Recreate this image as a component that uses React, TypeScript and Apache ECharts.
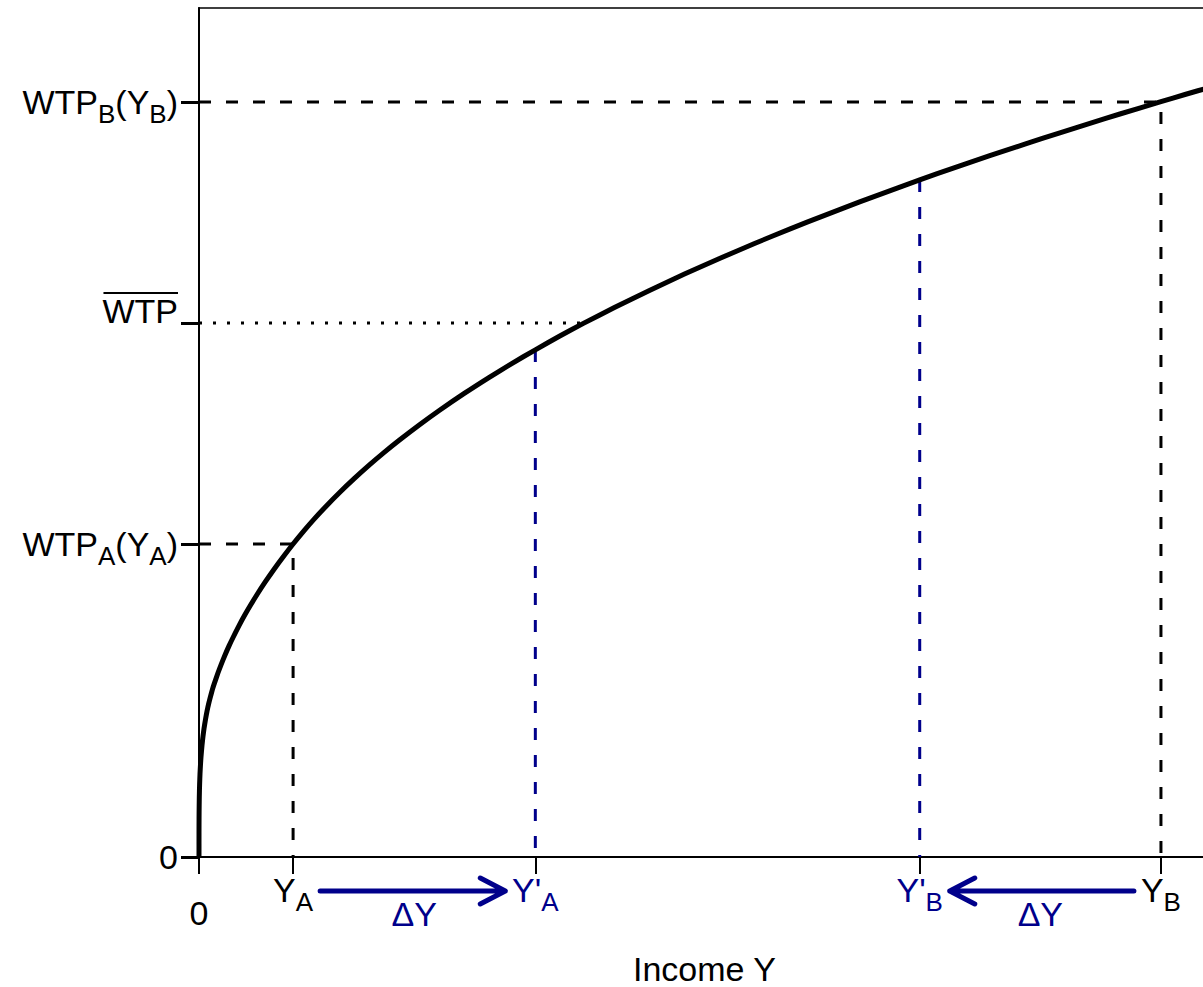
import React, { useEffect, useRef } from 'react';
import * as echarts from 'echarts';

// Curve: income (x) vs willingness to pay (y)
const curveIncome = [0, 0.01, 0.03, 0.1, 0.3, 0.6, 1, 1.5, 2, 3, 4, 5, 6.5, 8, 9.5, 11, 13.5, 15, 19, 22, 26, 30, 34, 40, 46, 52, 58, 66, 75, 84, 94, 105, 115, 127, 140, 155, 170, 185, 200, 220, 240, 265, 290, 312, 336, 360, 384, 415, 450, 485, 520, 555, 590, 625, 660, 690, 720, 755, 790, 825, 860, 890, 920, 961, 985, 1012];
const curveWTP = [0, 24.0, 32.2, 44.6, 60.0, 72.4, 83.1, 92.7, 100.2, 111.8, 120.8, 128.3, 137.7, 145.7, 152.6, 158.7, 167.8, 172.6, 184.2, 192.2, 202.0, 211.1, 219.5, 231.4, 242.4, 252.7, 262.5, 274.8, 287.8, 300.0, 313.0, 326.4, 337.9, 350.8, 364.0, 378.3, 391.8, 404.6, 416.7, 432.0, 446.5, 463.6, 479.7, 493.2, 507.2, 520.7, 533.6, 549.5, 566.6, 582.9, 598.5, 613.5, 627.9, 641.7, 655.1, 666.2, 677.1, 689.4, 701.3, 712.9, 724.2, 733.7, 743.0, 755.4, 762.5, 770.3];

// Key incomes
const incomeA = 94;
const incomeA2 = 336;
const incomeB2 = 720;
const incomeB = 961;
// Key WTP values
const wtpA = 313;
const wtpBar = 534;
const wtpB = 755;
const wtpA2 = 507; // curve at Y'_A
const wtpB2 = 677; // curve at Y'_B
const wtpBarCross = 382; // income where dotted WTP-bar line meets the curve

// Tick values and labels
const incomeTicks = [0, incomeA, incomeA2, incomeB2, incomeB];
const incomeTickMain = ['0', 'Y', "Y'", "Y'", 'Y'];
const incomeTickSub = ['', 'A', 'A', 'B', 'B'];
const incomeTickBlue = [false, false, true, true, false];

const wtpTicks = [0, wtpA, wtpBar, wtpB];

const FONT = '"Liberation Sans", Arial, Helvetica, sans-serif';
const BLUE = '#00008B';
const FS = 34;
const SUBFS = 26;

const X_MAX = 1010;
const Y_MAX = 849;
const Y_LABEL_MARGIN = 21;

// Arrow layout (style constants, in axis units)
const ARROW_Y = -34;
const ARROW_START_GAP = 27;
const ARROW_END_GAP = 30;
const HEAD_DX = 25;
const HEAD_DY = 13;
const DELTA_LABEL_Y = -57;

function arrowPoints(from: number, to: number) {
  const dir = to > from ? 1 : -1;
  const s = from + dir * ARROW_START_GAP;
  const t = to - dir * ARROW_END_GAP;
  return [
    [s, ARROW_Y],
    [t, ARROW_Y],
    [t - dir * HEAD_DX, ARROW_Y + HEAD_DY],
    [t, ARROW_Y],
    [t - dir * HEAD_DX, ARROW_Y - HEAD_DY],
  ];
}

function nearestIndex(arr: number[], v: number) {
  let best = 0;
  for (let i = 1; i < arr.length; i++) if (Math.abs(arr[i] - v) < Math.abs(arr[best] - v)) best = i;
  return best;
}

const rich: any = {
  k: { fontSize: FS, lineHeight: 50, color: '#000', fontFamily: FONT },
  ks: { fontSize: SUBFS, lineHeight: 26, verticalAlign: 'bottom', color: '#000', fontFamily: FONT },
  b: { fontSize: FS, lineHeight: 50, color: BLUE, fontFamily: FONT },
  bs: { fontSize: SUBFS, lineHeight: 26, verticalAlign: 'bottom', color: BLUE, fontFamily: FONT },
  zero: { fontSize: FS, lineHeight: 96, color: '#000', fontFamily: FONT },
  wtp: { fontSize: FS, lineHeight: 34, padding: [0, 0, 24, 0], color: '#000', fontFamily: FONT },
};

function xLabel(v: number) {
  const i = nearestIndex(incomeTicks, v);
  if (i === 0) return '{zero|0}';
  const m = incomeTickBlue[i] ? 'b' : 'k';
  return `{${m}|${incomeTickMain[i]}}{${m}s|${incomeTickSub[i]}}`;
}

function yLabel(v: number) {
  const i = nearestIndex(wtpTicks, v);
  if (i === 0) return '{k|0}';
  if (i === 1) return '{k|WTP}{ks|A}{k|(Y}{ks|A}{k|)}';
  if (i === 2) return '{wtp|WTP}';
  return '{k|WTP}{ks|B}{k|(Y}{ks|B}{k|)}';
}

const dashBlack = { color: '#000', width: 3, type: [12, 15] as any };
const dashBlue = { color: BLUE, width: 3, type: [12, 15] as any };

const lineBase = { type: 'line', showSymbol: false, symbol: 'none', silent: true };

const option: any = {
  animation: false,
  backgroundColor: '#fff',
  grid: {
    left: 199,
    top: 8,
    right: -7,
    bottom: 130,
    show: true,
    borderColor: '#000',
    borderWidth: 1.5,
    backgroundColor: 'transparent',
    containLabel: false,
    outerBoundsMode: 'none',
  },
  xAxis: {
    type: 'value',
    min: 0,
    max: X_MAX,
    name: 'Income Y',
    nameLocation: 'middle',
    nameGap: 95,
    nameTextStyle: { fontSize: FS, color: '#000', fontFamily: FONT },
    axisLine: { show: true, onZero: false, lineStyle: { color: '#000', width: 2 } },
    axisTick: { show: true, length: 17, lineStyle: { color: '#000', width: 2 }, customValues: incomeTicks },
    axisLabel: { show: true, margin: 8, customValues: incomeTicks, formatter: xLabel, rich, showMinLabel: true, showMaxLabel: true },
    splitLine: { show: false },
  },
  yAxis: {
    type: 'value',
    min: 0,
    max: Y_MAX,
    axisLine: { show: true, onZero: false, lineStyle: { color: '#000', width: 2 } },
    axisTick: { show: true, length: 18, lineStyle: { color: '#000', width: 3 }, customValues: wtpTicks },
    axisLabel: { show: true, margin: Y_LABEL_MARGIN, customValues: wtpTicks, formatter: yLabel, rich, showMinLabel: true, showMaxLabel: true },
    splitLine: { show: false },
  },
  series: [
    { ...lineBase, name: 'guideA', data: [[0, wtpA], [incomeA, wtpA], [incomeA, 0]], lineStyle: dashBlack },
    { ...lineBase, name: 'guideB', data: [[0, wtpB], [incomeB, wtpB], [incomeB, 0]], lineStyle: dashBlack },
    { ...lineBase, name: 'blueA', data: [[incomeA2, wtpA2], [incomeA2, 0]], lineStyle: dashBlue },
    { ...lineBase, name: 'blueB', data: [[incomeB2, wtpB2], [incomeB2, 0]], lineStyle: dashBlue },
    { ...lineBase, name: 'wtpBar', data: [[0, wtpBar], [wtpBarCross, wtpBar]], lineStyle: { color: '#000', width: 3, type: [3, 11] } },
    {
      ...lineBase,
      name: 'WTP(Y)',
      data: curveIncome.map((x, i) => [x, curveWTP[i]]),
      smooth: 0.2,
      lineStyle: { color: '#000', width: 5, join: 'round' },
      z: 5,
    },
    {
      ...lineBase,
      name: 'arrowA',
      clip: false,
      data: arrowPoints(incomeA, incomeA2),
      lineStyle: { color: BLUE, width: 5, cap: 'round', join: 'round' },
    },
    {
      ...lineBase,
      name: 'arrowB',
      clip: false,
      data: arrowPoints(incomeB, incomeB2),
      lineStyle: { color: BLUE, width: 5, cap: 'round', join: 'round' },
    },
    {
      type: 'scatter',
      name: 'deltaY',
      clip: false,
      silent: true,
      symbolSize: 1,
      itemStyle: { color: BLUE, opacity: 0 },
      data: [[(incomeA + incomeA2) / 2, DELTA_LABEL_Y], [(incomeB + incomeB2) / 2, DELTA_LABEL_Y]],
      label: {
        show: true,
        position: 'inside',
        formatter: 'ΔY',
        fontSize: FS,
        color: BLUE,
        opacity: 1,
        textBorderWidth: 0,
        textShadowBlur: 0,
        fontFamily: FONT,
      },
    },
  ],
};

export default function App() {
  const ref = useRef<HTMLDivElement>(null);
  useEffect(() => {
    const chart = echarts.init(ref.current!, null, { renderer: 'svg' });
    chart.setOption(option);
    // Overline of the WTP-bar tick label, placed from the axis' own scale
    const yPix = chart.convertToPixel({ yAxisIndex: 0 }, wtpBar) as number;
    const axisPix = chart.convertToPixel({ xAxisIndex: 0 }, 0) as number;
    const ctx = document.createElement('canvas').getContext('2d')!;
    ctx.font = `${FS}px ${FONT}`;
    const w = ctx.measureText('WTP').width;
    const right = axisPix - Y_LABEL_MARGIN;
    chart.setOption({
      graphic: [
        {
          type: 'line',
          silent: true,
          shape: { x1: right - w + 1, y1: yPix - 30, x2: right, y2: yPix - 30 },
          style: { stroke: '#000', lineWidth: 2 },
        },
      ],
    });
    return () => chart.dispose();
  }, []);
  return (
    <div
      ref={ref}
      style={{ position: 'fixed', left: 0, top: 0, width: 1203, height: 987, background: '#fff', overflow: 'hidden' }}
    />
  );
}
